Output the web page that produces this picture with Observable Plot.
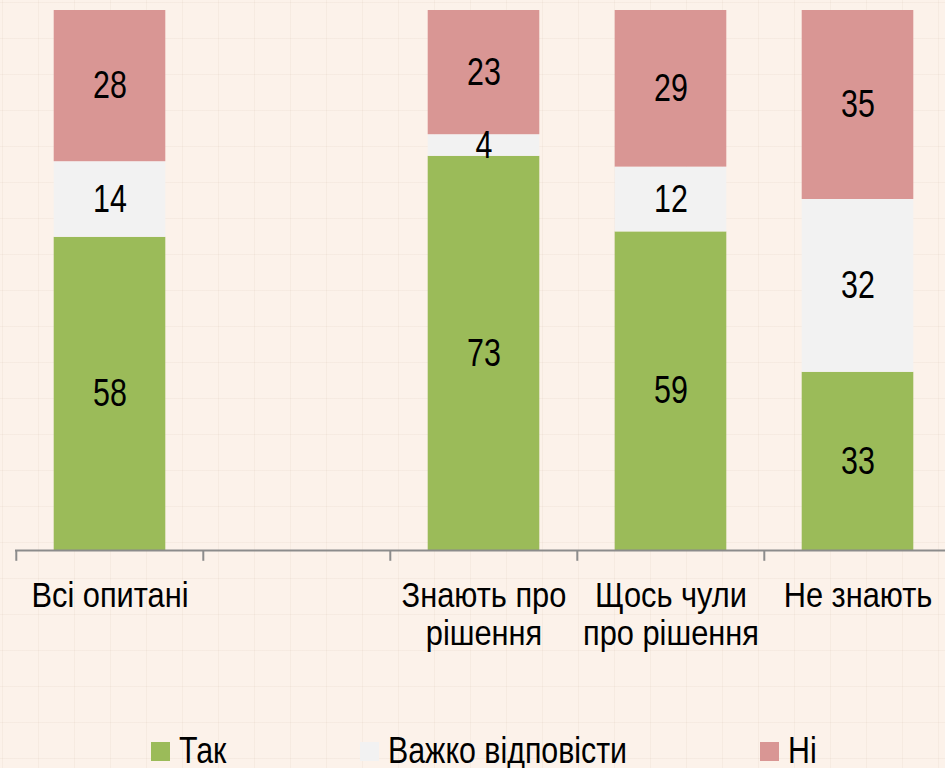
<!DOCTYPE html>
<html>
<head>
<meta charset="utf-8">
<script src="https://cdn.jsdelivr.net/npm/d3@7"></script>
<script src="https://cdn.jsdelivr.net/npm/@observablehq/plot@0.6"></script>
<style>
  html, body { margin: 0; padding: 0; }
  body {
    width: 945px; height: 768px; overflow: hidden; position: relative;
    background-color: #FCF2EA;
    background-image:
      linear-gradient(to right, rgba(210,185,165,0.13) 1px, transparent 1px),
      linear-gradient(to bottom, rgba(210,185,165,0.13) 1px, transparent 1px);
    background-size: 36px 36px;
    background-position: 2px 2px;
    font-family: "Liberation Sans", Arial, sans-serif;
  }
  #chart svg { display: block; }
  #legend { position: absolute; left: 0; top: 720px; width: 945px; height: 48px; }
  .sw { position: absolute; top: 22px; width: 19px; height: 19px; }
  .lt { position: absolute; top: 15px; font-size: 37px; line-height: 0.85; color: #000; white-space: nowrap;
        transform: scaleX(0.82); transform-origin: left center; }
</style>
</head>
<body>
<div id="chart"></div>
<div id="legend"></div>
<script>
const categories = ["Всі опитані", "", "Знають про рішення", "Щось чули про рішення", "Не знають"];
const tickLabels = ["Всі опитані", "", "Знають про\nрішення", "Щось чули\nпро рішення", "Не знають"];
const series = ["Так", "Важко відповісти", "Ні"];
const colors = ["#9BBB59", "#F2F2F2", "#D99694"];
const valuesTak = [58, null, 73, 59, 33];
const valuesHard = [14, null, 4, 12, 32];
const valuesNi = [28, null, 23, 29, 35];

const seriesValues = [valuesTak, valuesHard, valuesNi];
const data = [];
categories.forEach((c, i) => {
  series.forEach((s, j) => {
    const v = seriesValues[j][i];
    if (v != null) data.push({category: c, series: s, value: v});
  });
});

const W = 945, H = 720;
const x0 = 15, x1 = 952;
const step = (x1 - x0) / categories.length;
const barW = 112;
const inset = (step - barW) / 2;
const labelMap = new Map(categories.map((c, i) => [c, tickLabels[i]]));

const chart = Plot.plot({
  width: W,
  height: H,
  marginTop: 10,
  marginBottom: 170,
  marginLeft: 15,
  marginRight: 0,
  style: {background: "transparent", fontFamily: '"Liberation Sans", Arial, sans-serif', color: "#000"},
  x: {domain: categories, range: [x0, x1], padding: 0},
  y: {domain: [0, 100], axis: null},
  color: {domain: series, range: colors},
  marks: [
    Plot.barY(data, {x: "category", y: "value", fill: "series", insetLeft: inset, insetRight: inset}),
    Plot.text(data, Plot.stackY({x: "category", y: "value", z: "series", text: d => String(d.value), fontSize: 38, fill: "#000", className: "vals"})),
    Plot.ruleY([0], {stroke: "#8C8C8C", strokeWidth: 2}),
    Plot.ruleX(categories, {x: d => d, y1: 0, y2: -2, dx: -step / 2, stroke: "#8C8C8C", strokeWidth: 2}),
    Plot.axisX({tickSize: 0, tickPadding: 30, fontSize: 35, lineHeight: 1.07, tickFormat: d => labelMap.get(d), label: null, className: "ticks"})
  ]
});
document.getElementById("chart").appendChild(chart);

// condense text horizontally about its own centre (narrow typeface look)
function condense(sel, s) {
  chart.querySelectorAll(sel).forEach(el => {
    const b = el.getBBox();
    const cx = b.x + b.width / 2;
    const t = el.getAttribute("transform") || "";
    el.setAttribute("transform", `${t} translate(${cx},0) scale(${s},1) translate(${-cx},0)`);
  });
}
condense(".vals text", 0.8);
condense(".ticks text", 0.88);

const legendLeft = [151, 360, 760];
const legend = document.getElementById("legend");
series.forEach((s, i) => {
  const sw = document.createElement("div");
  sw.className = "sw";
  sw.style.left = legendLeft[i] + "px";
  sw.style.background = colors[i];
  const t = document.createElement("div");
  t.className = "lt";
  t.style.left = (legendLeft[i] + 28) + "px";
  t.textContent = s;
  legend.appendChild(sw);
  legend.appendChild(t);
});
</script>
</body>
</html>
